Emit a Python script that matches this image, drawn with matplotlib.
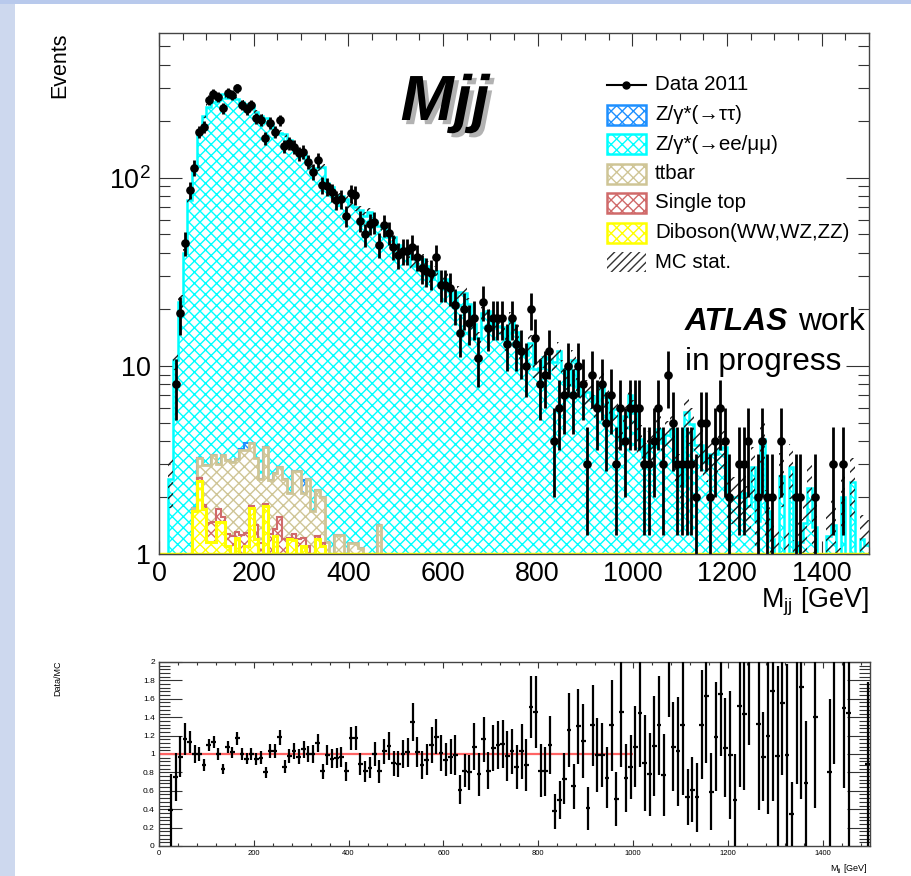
import numpy as np
import matplotlib
matplotlib.use("Agg")
import matplotlib.pyplot as plt
import matplotlib.patheffects as pe
from matplotlib.patches import Rectangle
from matplotlib.lines import Line2D
from matplotlib.ticker import MultipleLocator, FixedLocator, FixedFormatter, LogLocator, NullFormatter, FuncFormatter

plt.rcParams['font.family'] = ['Liberation Sans', 'DejaVu Sans']
plt.rcParams['mathtext.fontset'] = 'custom'
plt.rcParams['mathtext.rm'] = 'Liberation Sans'
plt.rcParams['mathtext.it'] = 'Liberation Sans:italic'
plt.rcParams['mathtext.bf'] = 'Liberation Sans:bold'
plt.rcParams['hatch.linewidth'] = 1.0

# ---------------- data (10 GeV bins, 0-1500 GeV) ----------------
bin_edges = np.arange(0, 1501, 10)

data = [0, 0, 1, 8, 19, 45, 86, 113, 176, 186,
        260, 280, 268, 235, 282, 277, 300, 244, 232, 244,
        208, 203, 163, 196, 176, 202, 147, 153, 146, 135,
        138, 122, 108, 124, 92, 90, 84, 76, 77, 63,
        83, 81, 59, 50, 57, 58, 44, 56, 51, 43,
        39, 41, 41, 43, 38, 33, 32, 31, 38, 27,
        27, 26, 21, 15, 20, 17, 18, 11, 22, 16,
        18, 18, 18, 13, 18, 13, 12, 10, 20, 14,
        8, 9, 12, 4, 6, 7, 10, 7, 10, 8,
        3, 9, 6, 8, 5, 7, 3, 6, 4, 6,
        6, 6, 3, 3, 4, 6, 3, 9, 5, 3,
        3, 3, 3, 2, 5, 5, 2, 4, 6, 4,
        2, 1, 3, 3, 4, 0, 2, 4, 2, 2,
        1, 4, 1, 1, 2, 2, 1, 0, 2, 0,
        0, 1, 3, 0, 3, 1, 0, 0, 0, 1]

z_ll = [0, 0, 2.5, 10.8, 22, 40, 76, 112, 174, 211,
        236, 250, 266, 276, 262, 270, 258, 248, 244, 240,
        220, 211, 204, 190, 172, 171, 168, 156, 143, 138,
        131, 122, 110, 111, 112, 93, 88, 80, 79, 76,
        71, 69, 66, 62, 65, 58, 54, 54, 48, 48,
        44, 41, 40, 34, 37, 37, 34, 29, 32, 27,
        29, 26, 21.5, 24.6, 24.4, 21.3, 16.7, 14.1, 19, 19.5,
        17, 16.4, 16.2, 13.3, 17.5, 15.1, 11.7, 11.4, 13.2, 9.6,
        9.8, 11.1, 10.9, 10.5, 12, 9.6, 7.9, 10.8, 7.7, 7.0,
        7.3, 6.9, 6.1, 8.1, 6.8, 5.3, 5.9, 4.1, 5.4, 7.0,
        5.6, 4.1, 3.3, 3.8, 3.7, 4.6, 3.9, 4.3, 4.6, 2.9,
        2.3, 5.7, 4.9, 3.8, 3.8, 3.1, 3.4, 3.4, 3.6, 3.7,
        2.0, 2.0, 2.0, 2.1, 1.8, 2.9, 1.5, 4.1, 1.7, 1.2,
        1.0, 2.6, 1.0, 2.9, 0.9, 1.16, 1.47, 2.25, 1.4, 0,
        0, 1.25, 1.43, 0.8, 2.0, 0.69, 2.4, 0.6, 1.2, 1.12]

z_tautau_low = [0, 0, 0, 0, 0, 0, 0, 0, 0, 0,
                0, 0, 0, 0, 0, 0, 0, 0.05, 0.33, 0,
                0, 0, 0, 0, 0, 0, 0, 0, 0, 0,
                0.35, 0, 0, 0, 0, 0, 0, 0, 0, 0,
                0, 0, 0, 0, 0, 0, 0, 0, 0, 0]

ttbar_low = [0, 0, 0, 0, 0, 0, 0, 0.05, 0.7, 1.15,
             1.5, 1.9, 1.27, 1.77, 1.87, 1.85, 1.89, 2.3, 2.27, 2.1,
             1.8, 1.35, 1.85, 1.2, 1.35, 1.32, 1.3, 0.9, 1.47, 1.55,
             0.9, 1.4, 0.7, 0.95, 0.86, 0.46, 0.3, 0.56, 0.56, 0.4,
             0.64, 0.64, 0.57, 0.4, 0.4, 0.4, 0.83, 0.3, 0.3, 0.3]

single_top_low = [0, 0, 0, 0, 0, 0, 0, 0.0, 0.08, 0.1,
                  0.3, 0.32, 0.25, 0.1, 0.18, 0.35, 0.1, 0.26, 0.2, 0.05,
                  0.23, 0.2, 0.05, 0.38, 0.1, 0.68, 0.2, 0.01, 0.1, 0.3,
                  0.11, 0.2, 0.2, 0.05, 0.04, 0.1, 0.1, 0.2, 0.2, 0.1,
                  0.1, 0.1, 0.1, 0.1, 0.1, 0.1, 0.1, 0.05, 0.05, 0.05]

diboson_low = [0, 0, 0, 0, 0, 0, 0, 1.7, 2.45, 1.73,
               1.16, 1.16, 1.48, 1.48, 1.1, 0.9, 1.21, 1.0, 1.1, 1.76,
               1.2, 0.95, 1.8, 0.9, 1.25, 0.9, 1.0, 1.2, 1.18, 0.9,
               1.1, 0.9, 0.8, 1.2, 1.1, 0.6, 0.5, 0.5, 0.5, 0.4,
               0.4, 0.4, 0.4, 0.3, 0.3, 0.3, 0.5, 0.2, 0.2, 0.2]

# relative MC statistical uncertainty
mc_stat_rel = [0, 0, 0.3, 0.12, 0.08, 0.05, 0.04, 0.04, 0.03, 0.03,
               0.03, 0.03, 0.03, 0.03, 0.03, 0.03, 0.03, 0.03, 0.03, 0.03,
               0.03, 0.03, 0.03, 0.03, 0.03, 0.03, 0.03, 0.03, 0.03, 0.03,
               0.04, 0.04, 0.04, 0.04, 0.04, 0.04, 0.04, 0.04, 0.04, 0.04,
               0.05, 0.05, 0.05, 0.05, 0.05, 0.05, 0.05, 0.05, 0.05, 0.05,
               0.06, 0.06, 0.06, 0.06, 0.06, 0.06, 0.06, 0.06, 0.06, 0.06,
               0.08, 0.08, 0.08, 0.08, 0.08, 0.08, 0.08, 0.08, 0.08, 0.08,
               0.10, 0.10, 0.10, 0.10, 0.10, 0.10, 0.10, 0.10, 0.10, 0.10,
               0.12, 0.12, 0.12, 0.12, 0.12, 0.12, 0.12, 0.12, 0.12, 0.12,
               0.15, 0.15, 0.15, 0.15, 0.15, 0.15, 0.15, 0.15, 0.15, 0.15,
               0.18, 0.18, 0.18, 0.18, 0.18, 0.18, 0.18, 0.18, 0.18, 0.18,
               0.22, 0.22, 0.22, 0.22, 0.22, 0.22, 0.22, 0.22, 0.22, 0.22,
               0.28, 0.28, 0.28, 0.28, 0.28, 0.28, 0.28, 0.28, 0.28, 0.28,
               0.32, 0.32, 0.32, 0.32, 0.32, 0.32, 0.32, 0.32, 0.32, 0.32,
               0.35, 0.35, 0.35, 0.35, 0.35, 0.35, 0.35, 0.35, 0.35, 0.35]

nan = np.nan
ratio = [nan, nan, 0.39, 0.75, 0.97, 1.16, 1.13, 1.0, 1.0, 0.88,
         1.1, 1.13, 1.0, 0.84, 1.08, 1.02, 1.17, 1.0, 0.95, 1.0,
         0.95, 0.96, 0.8, 1.03, 1.03, 1.18, 0.86, 0.98, 1.03, 0.97,
         1.05, 1.0, 1.0, 1.12, 0.81, 0.99, 0.95, 0.96, 0.97, 0.81,
         1.17, 1.17, 0.89, 0.81, 0.85, 1.0, 0.81, 1.03, 1.09, 0.9,
         0.89, 1.0, 1.02, 1.35, 1.02, 0.88, 0.94, 1.1, 1.19, 1.01,
         0.94, 0.97, 0.99, 0.61, 0.82, 0.80, 1.08, 0.78, 1.16, 0.82,
         1.06, 1.10, 1.11, 0.98, 1.03, 0.86, 1.03, 0.88, 1.51, 1.46,
         0.82, 0.81, 1.10, 0.38, 0.50, 0.73, 1.26, 0.65, 1.30, 1.14,
         0.41, 1.31, 0.99, 0.99, 0.74, 1.31, 0.51, 1.46, 0.74, 0.86,
         1.08, 1.45, 0.90, 0.78, 1.09, 1.31, 0.77, 2.1, 1.08, 1.03,
         1.32, 0.53, 0.61, 0.53, 1.32, 1.63, 0.59, 1.19, 1.65, 1.07,
         0.99, 0.5, 1.52, 1.43, 2.2, nan, 1.33, 0.97, 1.2, 1.68,
         0.98, 1.55, 0.99, 0.35, 2.3, 1.73, 0.68, nan, 1.4, nan,
         nan, 0.8, 2.1, nan, 1.5, 1.45, nan, nan, nan, 0.89]

# ---------------- derived arrays ----------------
edges = np.asarray(bin_edges, dtype=float)
centers = 0.5 * (edges[:-1] + edges[1:])
nb = len(centers)
def full(a):
    a = np.asarray(a, dtype=float)
    return np.pad(a, (0, nb - len(a)))
data_a = np.asarray(data, dtype=float)
zll = np.asarray(z_ll, dtype=float)
ztt = full(z_tautau_low)
tt = full(ttbar_low)
st = full(single_top_low)
db = full(diboson_low)
ratio_a = np.asarray(ratio, dtype=float)

c_db = db
c_st = c_db + st
c_tt = c_st + tt
c_tau = c_tt + ztt
total = c_tau + zll
mc_err = total * np.asarray(mc_stat_rel)

FLOOR = 1e-3
def fl(a):
    return np.maximum(a, FLOOR)

# ---------------- colours ----------------
C_ZLL = '#00ffff'
C_ZTT = '#1e90ff'
C_TT = '#cfc596'
C_ST = '#d06a6a'
C_DB = '#ffff00'

W, H = 912, 876
fig = plt.figure(figsize=(W / 100, H / 100), dpi=100)
fig.patch.set_facecolor('white')

def rect(l, t, r, b):
    return [l / W, 1 - b / H, (r - l) / W, (b - t) / H]

def fx(x):
    return x / W

def fy(y):
    return 1 - y / H

# slide background strips
fig.add_artist(Rectangle((0, 0), 15 / W, 1, transform=fig.transFigure, facecolor='#cdd8ee', edgecolor='none', zorder=0))
fig.add_artist(Rectangle((0, fy(4)), 1, 4 / H, transform=fig.transFigure, facecolor='#b8c9ec', edgecolor='none', zorder=0))

# ---------------- main panel ----------------
ax = fig.add_axes(rect(159, 33, 869, 554))
ax.set_yscale('log')
ax.set_xlim(0, 1500)
ax.set_ylim(1, 10 ** 2.77)

layers = [(total, C_ZLL, C_ZLL, 1.8), (c_tau, C_ZTT, C_ZTT, 1.5), (c_tt, C_TT, C_TT, 2.0),
          (c_st, C_ST, C_ST, 1.5), (c_db, C_DB, C_DB, 2.2)]
for i, (vals, hc, lc, lw) in enumerate(layers):
    ax.stairs(fl(vals), edges, baseline=FLOOR, fill=True, facecolor='white',
              edgecolor=hc, hatch='xxx', linewidth=0, zorder=2 + i * 0.1)
    ax.stairs(fl(vals), edges, baseline=None, fill=False, color=lc, linewidth=lw,
              zorder=2.05 + i * 0.1)

# MC stat band
ax.stairs(fl(total + mc_err), edges, baseline=fl(total - mc_err), fill=True,
          facecolor='none', edgecolor='#222222', hatch='///', linewidth=0, zorder=3)

ax.axhline(1, color=C_DB, lw=2.5, zorder=3.5)

mask = data_a > 1
ax.errorbar(centers[mask], data_a[mask], yerr=np.sqrt(data_a[mask]), fmt='o', color='black',
            ms=5.2, elinewidth=2.0, capsize=0, zorder=5)

ax.xaxis.set_major_locator(MultipleLocator(200))
ax.xaxis.set_minor_locator(MultipleLocator(50))
ax.yaxis.set_major_locator(FixedLocator([1, 10, 100]))
ax.yaxis.set_major_formatter(FixedFormatter(['1', '10', '$10^{2}$']))
ax.yaxis.set_minor_locator(LogLocator(subs=np.arange(2, 10)))
ax.yaxis.set_minor_formatter(NullFormatter())
ax.tick_params(axis='x', which='major', direction='in', length=9.4, width=0.8, top=True, bottom=True,
               labelsize=19.4, pad=5, color='#333333')
ax.tick_params(axis='x', which='minor', direction='in', length=5, width=0.8, top=True, bottom=True, color='#333333')
ax.tick_params(axis='y', which='major', direction='in', length=16.5, width=0.8, left=True, right=True,
               labelsize=19.4, pad=6, color='#333333')
ax.tick_params(axis='y', which='minor', direction='in', length=8, width=0.8, left=True, right=True, color='#333333')
for s in ax.spines.values():
    s.set_color('#444444')
    s.set_linewidth(1.0)
    s.set_zorder(6)

fig.text(fx(60), fy(33), 'Events', rotation=90, ha='center', va='top', fontsize=15.5)
fig.text(fx(869), fy(608), 'M$_{\\rm jj}$ [GeV]', ha='right', va='baseline', fontsize=19.4)

# title Mjj
fig.text(fx(445), fy(120), 'Mjj', fontsize=46, fontweight='bold', fontstyle='italic', ha='center',
         va='baseline', path_effects=[pe.withSimplePatchShadow(offset=(3, -3), shadow_rgbFace=(0.5, 0.5, 0.5), alpha=0.6)])

# ATLAS label
fig.text(fx(685), fy(330), 'ATLAS', fontsize=22.8, fontweight='bold', fontstyle='italic', ha='left', va='baseline')
fig.text(fx(865), fy(330), 'work', fontsize=22.8, ha='right', va='baseline')
fig.text(fx(685), fy(370), 'in progress', fontsize=22.8, ha='left', va='baseline')

# legend (drawn manually)
leg_labels = ['Data 2011', 'Z/\u03b3*(\u2192\u03c4\u03c4)', 'Z/\u03b3*(\u2192ee/\u03bc\u03bc)', 'ttbar',
              'Single top', 'Diboson(WW,WZ,ZZ)', 'MC stat.']
leg_colors = [None, C_ZTT, C_ZLL, C_TT, C_ST, C_DB, None]
row0, drow = 85, 29.5
bx0, bx1 = 607, 646
for i, (lab, col) in enumerate(zip(leg_labels, leg_colors)):
    yc = row0 + i * drow
    if i == 0:
        fig.add_artist(Line2D([fx(bx0), fx(bx1)], [fy(yc), fy(yc)], transform=fig.transFigure,
                              color='black', lw=1.5))
        fig.add_artist(Line2D([fx((bx0 + bx1) / 2)], [fy(yc)], transform=fig.transFigure,
                              color='black', marker='o', ms=5))
    elif col is not None:
        fig.add_artist(Rectangle((fx(bx0), fy(yc + 10)), (bx1 - bx0) / W, 20 / H, transform=fig.transFigure,
                                 facecolor='white', edgecolor=col, hatch='xxx', linewidth=0))
        fig.add_artist(Rectangle((fx(bx0), fy(yc + 10)), (bx1 - bx0) / W, 20 / H, transform=fig.transFigure,
                                 facecolor='none', edgecolor=col, linewidth=1.8))
    else:
        fig.add_artist(Rectangle((fx(bx0), fy(yc + 10)), (bx1 - bx0) / W, 20 / H, transform=fig.transFigure,
                                 facecolor='none', edgecolor='#333333', hatch='////', linewidth=0))
    fig.text(fx(655), fy(yc), lab, fontsize=14.8, ha='left', va='center')

# ---------------- ratio panel ----------------
axr = fig.add_axes(rect(159, 662, 870, 846))
axr.set_xlim(0, 1500)
axr.set_ylim(0, 2)
axr.hlines(1, 0, 1000, color='#ff6464', lw=1.6, zorder=2)
rmask = np.isfinite(ratio_a) & (data_a > 0)
rerr = ratio_a[rmask] / np.sqrt(data_a[rmask])
axr.errorbar(centers[rmask], ratio_a[rmask], xerr=5, yerr=rerr, fmt='none', ecolor='black',
             elinewidth=1.6, capsize=0, zorder=3)
axr.xaxis.set_major_locator(MultipleLocator(200))
axr.xaxis.set_minor_locator(MultipleLocator(40))
axr.yaxis.set_major_locator(MultipleLocator(0.2))
axr.yaxis.set_minor_locator(MultipleLocator(0.04))
axr.yaxis.set_major_formatter(FuncFormatter(lambda v, p: f'{v:g}'))
axr.tick_params(axis='x', which='major', direction='in', length=4.3, width=0.8, top=True, bottom=True,
                labelsize=5.5, pad=3, color='#333333')
axr.tick_params(axis='x', which='minor', direction='in', length=2.2, width=0.8, top=True, bottom=True, color='#333333')
axr.tick_params(axis='y', which='major', direction='in', length=16.5, width=0.8, left=True, right=True,
                labelsize=6, pad=3, color='#333333')
axr.tick_params(axis='y', which='minor', direction='in', length=8, width=0.8, left=True, right=True, color='#333333')
for s in axr.spines.values():
    s.set_color('#444444')
    s.set_linewidth(1.0)

fig.text(fx(58), fy(660), 'Data/MC', rotation=90, ha='center', va='top', fontsize=6.5)
fig.text(fx(868), fy(872), 'M$_{\\rm jj}$ [GeV]', ha='right', va='baseline', fontsize=6.5)

fig.savefig('out.png', dpi=100, facecolor='white')
